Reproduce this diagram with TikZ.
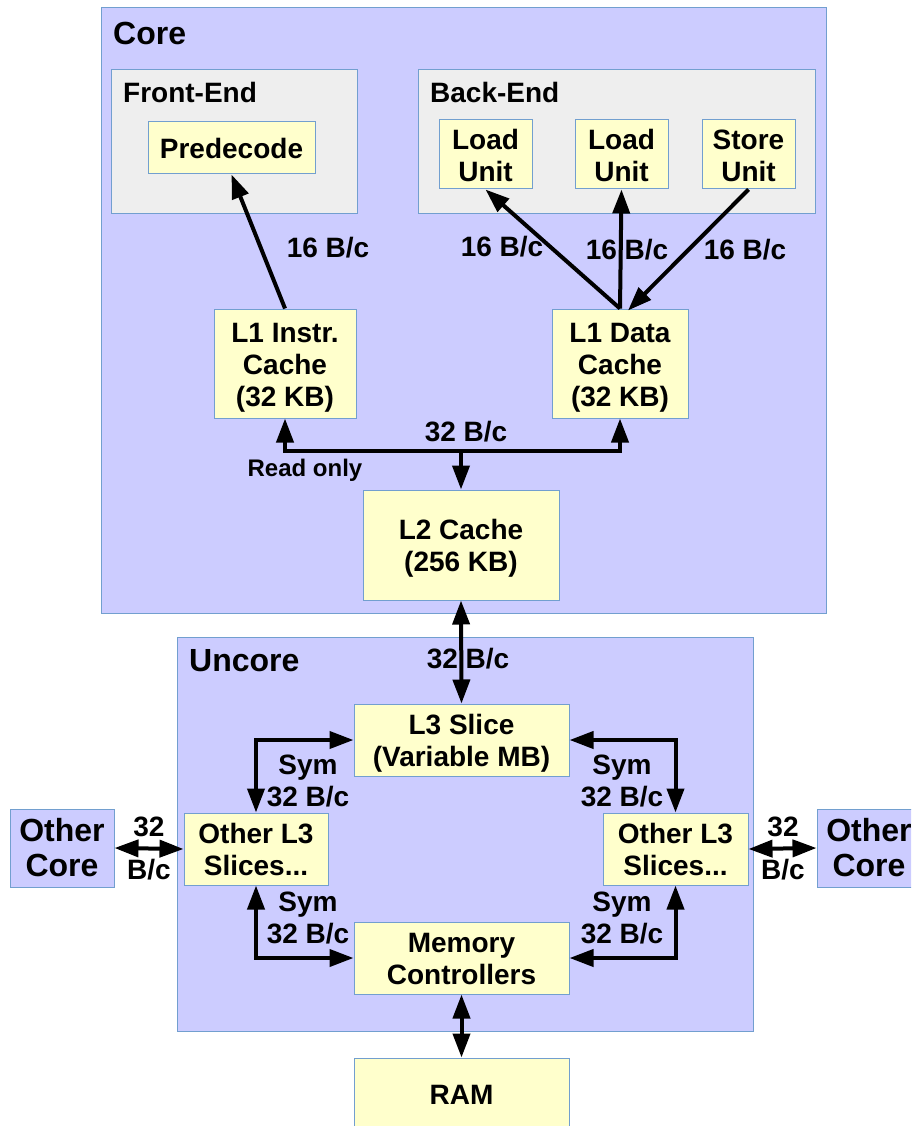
\documentclass[tikz,border=0pt]{standalone}
\usepackage{fontspec}
\setmainfont{Liberation Sans}
\usetikzlibrary{arrows.meta}
\definecolor{linec}{HTML}{729FCF}
\definecolor{lav}{HTML}{CCCCFF}
\definecolor{grayb}{HTML}{EEEEEE}
\definecolor{boxy}{HTML}{FFFFCC}
\newcommand\bodyfont{\fontsize{28}{32}\selectfont\bfseries}
\newcommand\titlefont{\fontsize{32}{35}\selectfont\bfseries}
\newcommand\smallfont{\fontsize{24}{28}\selectfont\bfseries}
\newcommand\lsa{\rule{0pt}{27.5pt}}
\newcommand\lsb{\rule[-6pt]{0pt}{6pt}}
\tikzset{
  frame/.style={draw=linec, line width=1pt, inner sep=0pt},
  box/.style={draw=linec, fill=boxy, line width=1pt, align=center, inner sep=0pt, font=\bodyfont},
  lbl/.style={font=\bodyfont, align=center, inner sep=0pt},
  ttl/.style={font=\titlefont, anchor=west, inner sep=0pt},
  conn/.style={line width=4pt, -{Triangle[length=24pt,width=17pt]}},
  conn2/.style={line width=4pt, {Triangle[length=24pt,width=17pt]}-{Triangle[length=24pt,width=17pt]}},
}
\begin{document}
\begin{tikzpicture}[x=1pt,y=-1pt]
\clip (0,0) rectangle (911,1126);
\fill[white] (0,0) rectangle (911,1126);
% frames
\node[frame, fill=lav, minimum width=725pt, minimum height=605pt] (core) at (463.5,310.5) {};
\node[frame, fill=grayb, minimum width=246pt, minimum height=143pt] (fe) at (234,141.5) {};
\node[frame, fill=grayb, minimum width=397pt, minimum height=143pt] (be) at (616.5,141.5) {};
\node[frame, fill=lav, minimum width=576pt, minimum height=394pt] (uncore) at (465,834) {};
\node[ttl] (coret) at (113,33) {Core};
\node[ttl, font=\bodyfont] (fet) at (123,92) {Front-End};
\node[ttl, font=\bodyfont] (bet) at (430,92) {Back-End};
\node[ttl] (uncoret) at (189,661) {Uncore};
% boxes
\node[box, minimum width=167pt, minimum height=52pt] (pre) at (231.5,148) {\lsa Predecode\lsb};
\node[box, minimum width=93pt, minimum height=69pt] (lu1) at (485.5,154.5) {\lsa Load\\Unit\lsb};
\node[box, minimum width=93pt, minimum height=69pt] (lu2) at (621.5,154.5) {\lsa Load\\Unit\lsb};
\node[box, minimum width=93pt, minimum height=69pt] (su) at (748.5,154.5) {\lsa Store\\Unit\lsb};
\node[box, minimum width=142pt, minimum height=109pt] (l1i) at (285,363.5) {\lsa L1 Instr.\\Cache\\(32 KB)\lsb};
\node[box, minimum width=136pt, minimum height=109pt] (l1d) at (620,363.5) {\lsa L1 Data\\Cache\\(32 KB)\lsb};
\node[box, minimum width=196pt, minimum height=110pt] (l2) at (461,545) {\lsa L2 Cache\\(256 KB)\lsb};
\node[box, minimum width=215pt, minimum height=72pt] (l3) at (461.5,740) {\lsa L3 Slice\\(Variable MB)\lsb};
\node[box, minimum width=144pt, minimum height=72pt] (ol3l) at (256,849) {\lsa Other L3\\Slices...\lsb};
\node[box, minimum width=145pt, minimum height=72pt] (ol3r) at (675.5,849) {\lsa Other L3\\Slices...\lsb};
\node[box, minimum width=215pt, minimum height=72pt] (mc) at (461.5,958) {\lsa Memory\\Controllers\lsb};
\node[box, minimum width=215pt, minimum height=72pt] (ram) at (461.5,1094) {\lsa RAM\lsb};
\node[box, fill=lav, font=\titlefont, minimum width=104pt, minimum height=78pt] (ocl) at (62,848) {\lsa Other\\Core\lsb};
\node[box, fill=lav, font=\titlefont, minimum width=104pt, minimum height=78pt] (ocr) at (869,848) {\lsa Other\\Core\lsb};
% connectors
\draw[conn] (l1i.north) -- (pre.south);
\draw[conn] (l1d.north) -- (lu1.south);
\draw[conn] (l1d.north) -- (lu2.south);
\draw[conn] (su.south) -- ([xshift=8pt,yshift=-2pt]l1d.north);
\coordinate (busL) at (285,451);
\coordinate (busR) at (620,451);
\coordinate (busM) at (461,451);
\draw[conn2] (l1i.south) -- (busL) -- (busR) -- (l1d.south);
\draw[conn] (busM) -- (l2.north);
\draw[conn2] (l2.south) -- (l3.north);
\draw[conn2] (l3.west) -| (ol3l.north);
\draw[conn2] (ol3l.south) |- (mc.west);
\draw[conn2] (l3.east) -| (ol3r.north);
\draw[conn2] (ol3r.south) |- (mc.east);
\draw[conn2] (ocl.east) -- (ol3l.west);
\draw[conn2] (ol3r.east) -- (ocr.west);
\draw[conn2] (mc.south) -- (ram.north);
% labels
\node[lbl] (la) at (328,248) {16 B/c};
\node[lbl] (lb) at (502,247) {16 B/c};
\node[lbl] (lc) at (627,250) {16 B/c};
\node[lbl] (ld) at (745,250) {16 B/c};
\node[lbl] (le) at (466,432) {32 B/c};
\node[lbl, font=\smallfont] (lf) at (305,470) {Read only};
\node[lbl] (lg) at (468,659) {32 B/c};
\node[lbl] (lh) at (308,781) {Sym\\32 B/c};
\node[lbl] (li) at (308,918) {Sym\\32 B/c};
\node[lbl] (lj) at (622,781) {Sym\\32 B/c};
\node[lbl] (lk) at (622,918) {Sym\\32 B/c};
\node[lbl] (ll) at (149,827) {32};
\node[lbl] (lm) at (149,870) {B/c};
\node[lbl] (ln) at (783,827) {32};
\node[lbl] (lo) at (783,870) {B/c};
\end{tikzpicture}
\end{document}
